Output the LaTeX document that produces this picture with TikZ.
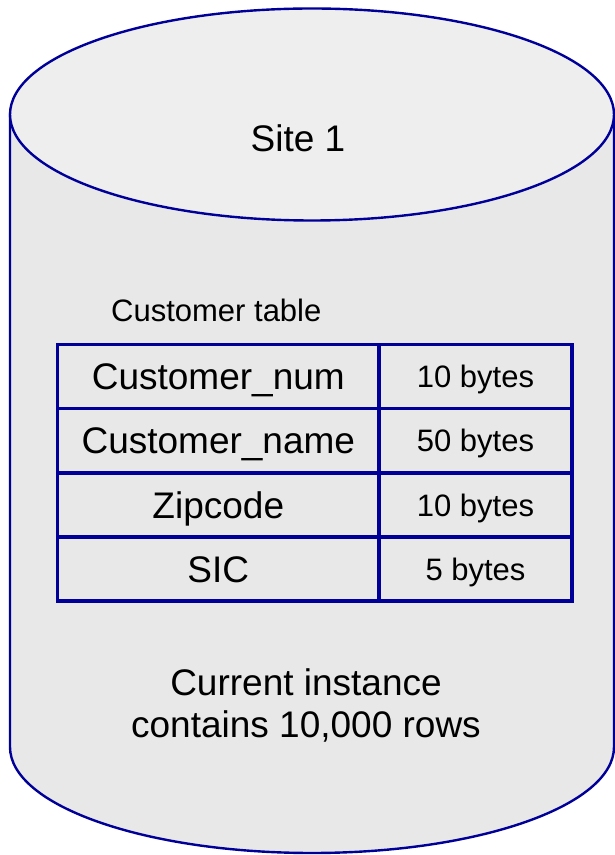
\documentclass[tikz,border=0pt]{standalone}
\usepackage{fontspec}
\setmainfont{Liberation Sans}
\usepackage{tikz}

\definecolor{cylline}{RGB}{0,0,153}
\definecolor{cyltop}{RGB}{238,238,238}
\definecolor{cylbody}{RGB}{232,232,232}

\tikzset{
  cylbodystyle/.style={draw=cylline, fill=cylbody, line width=2.4pt},
  cyltopstyle/.style={draw=cylline, fill=cyltop, line width=2.4pt},
  bigtext/.style={font=\fontsize{37}{42}\selectfont, inner sep=0pt},
  smalltext/.style={font=\fontsize{31}{36}\selectfont, inner sep=0pt},
  namecell/.style={draw=cylline, line width=3.2pt, minimum width=321.4pt,
    minimum height=64pt, inner sep=0pt, outer sep=0pt,
    text height=26.5pt, text depth=0pt, bigtext},
  sizecell/.style={draw=cylline, line width=3.2pt, minimum width=193pt,
    minimum height=64pt, inner sep=0pt, outer sep=0pt,
    text height=22.2pt, text depth=0pt, smalltext}
}

\begin{document}
\begin{tikzpicture}[x=1pt, y=1pt]

\useasboundingbox (0,0) rectangle (615,855);

%% Cylinder
\draw [cylbodystyle] (10,740.5) -- (10,108)
  arc [start angle=180, end angle=360, x radius=302, y radius=106]
  -- (614,740.5) -- cycle;
\draw [cyltopstyle] (312,740.5) ellipse [x radius=302, y radius=106];

\node [bigtext] (site) at (298,717) {Site 1};

%% Customer table
\node [smalltext, anchor=base west] (tabtitle) at (111,533) {Customer table};

\node [namecell] (num)  at (218.3,478.5) {Customer\_num};
\node [sizecell] (numb) at (475.5,478.5) {10 bytes};
\node [namecell] (name)  at (218.3,414.5) {Customer\_name};
\node [sizecell] (nameb) at (475.5,414.5) {50 bytes};
\node [namecell] (zip)  at (218.3,350) {Zipcode};
\node [sizecell] (zipb) at (475.5,350) {10 bytes};
\node [namecell] (sic)  at (218.3,286) {SIC};
\node [sizecell] (sicb) at (475.5,286) {5 bytes};

%% Row count
\node [bigtext, align=center] (rows) at (306,150)
  {Current instance\\contains 10,000 rows};

\end{tikzpicture}
\end{document}
